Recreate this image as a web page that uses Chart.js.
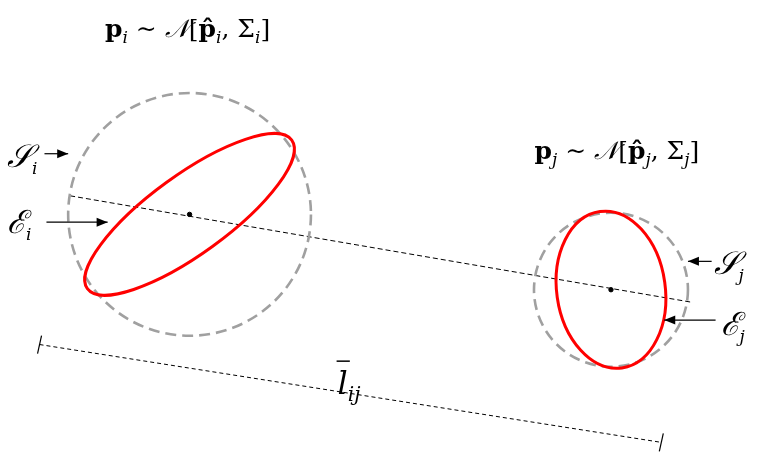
<!DOCTYPE html><html><head><meta charset="utf-8">
<script src="https://cdn.jsdelivr.net/npm/chart.js@4"></script>
<style>html,body{margin:0;background:#fff}#w{width:765px;height:464px}</style></head><body>
<div id="w"><canvas id="c"></canvas></div>
<script>
// Diagram values (in drawing units, x right, y down)
const centers = [{x:187,y:214},{x:614,y:291}];
const circleRadii = [123,78];
const ellipseAxes = [[128,40],[55,80]];
const ellipseAngles = [-36,-8];
const centerLine = [{x:66,y:195},{x:697,y:304}];
const dimLine = [{x:35,y:347},{x:665,y:447}];
const arrows = [[40,152,64,152],[42,222,104,222],[716,262,692,262],[720,322,668,322]];

const C = document.getElementById('c');
function seg(ctx,x,y,parts,align){
  let w=0; parts.forEach(p=>{ctx.font=p.f;p.w=ctx.measureText(p.t).width;w+=p.w;});
  let cx = align==='center'? x-w/2 : x;
  parts.forEach(p=>{ctx.font=p.f;ctx.fillText(p.t,cx,y+(p.dy||0));p.x=cx;cx+=p.w;});
  return parts;
}
const B='bold 25px "DejaVu Serif"', R='25px "DejaVu Serif"', I='italic 25px "DejaVu Serif"', SI='italic 17px "DejaVu Serif"', SC='italic 32px "DejaVu Serif"';
const deco={id:'deco',afterDatasetsDraw(ch){
  const ctx=ch.ctx, xs=ch.scales.x, ys=ch.scales.y;
  const px=v=>xs.getPixelForValue(v), py=v=>ys.getPixelForValue(v), k=(xs.getPixelForValue(100)-xs.getPixelForValue(0))/100;
  ctx.save();
  centers.forEach((c,i)=>{
    ctx.beginPath();ctx.setLineDash([11,6]);ctx.strokeStyle='#a0a0a0';ctx.lineWidth=2.6;
    ctx.arc(px(c.x),py(c.y),circleRadii[i]*k,0,Math.PI*2);ctx.stroke();
    ctx.beginPath();ctx.setLineDash([]);ctx.strokeStyle='#ff0000';ctx.lineWidth=3;
    ctx.ellipse(px(c.x),py(c.y),ellipseAxes[i][0]*k,ellipseAxes[i][1]*k,ellipseAngles[i]*Math.PI/180,0,Math.PI*2);ctx.stroke();
  });
  ctx.setLineDash([]);ctx.strokeStyle='#000';ctx.fillStyle='#000';ctx.lineWidth=1.2;
  arrows.forEach(a=>{
    const x1=px(a[0]),y1=py(a[1]),x2=px(a[2]),y2=py(a[3]);
    ctx.beginPath();ctx.moveTo(x1,y1);ctx.lineTo(x2,y2);ctx.stroke();
    const s=Math.sign(x2-x1);
    ctx.beginPath();ctx.moveTo(x2,y2);ctx.lineTo(x2-s*11,y2-4.5);ctx.lineTo(x2-s*11,y2+4.5);ctx.closePath();ctx.fill();
  });
  [dimLine[0],dimLine[1]].forEach(p=>{ctx.beginPath();ctx.moveTo(px(p.x)+2,py(p.y)-9);ctx.lineTo(px(p.x)-2,py(p.y)+9);ctx.stroke();});
  ctx.textBaseline='alphabetic';
  seg(ctx,px(185),py(33),[{t:'p',f:B},{t:'i',f:SI,dy:6},{t:' ∼ ',f:R},{t:'𝒩',f:I},{t:'[',f:R},{t:'p̂',f:B},{t:'i',f:SI,dy:6},{t:', Σ',f:R},{t:'i',f:SI,dy:6},{t:']',f:R}],'center');
  seg(ctx,px(620),py(157),[{t:'p',f:B},{t:'j',f:SI,dy:6},{t:' ∼ ',f:R},{t:'𝒩',f:I},{t:'[',f:R},{t:'p̂',f:B},{t:'j',f:SI,dy:6},{t:', Σ',f:R},{t:'j',f:SI,dy:6},{t:']',f:R}],'center');
  seg(ctx,px(2),py(166),[{t:'𝒮',f:SC},{t:'i',f:SI,dy:7}]);
  seg(ctx,px(2),py(233),[{t:'ℰ',f:SC},{t:'i',f:SI,dy:7}]);
  seg(ctx,px(718),py(275),[{t:'𝒮',f:SC},{t:'j',f:SI,dy:7}]);
  seg(ctx,px(725),py(337),[{t:'ℰ',f:SC},{t:'j',f:SI,dy:7}]);
  const p=seg(ctx,px(337),py(398),[{t:'l',f:'italic 32px "DejaVu Serif"'},{t:'ij',f:'italic 20px "DejaVu Serif"',dy:7}]);
  ctx.lineWidth=1.5;ctx.beginPath();ctx.moveTo(p[0].x-1,py(364));ctx.lineTo(p[0].x+p[0].w+2,py(364));ctx.stroke();
  ctx.restore();
}};
new Chart(C,{type:'scatter',data:{datasets:[
  {data:centers,pointRadius:2.2,backgroundColor:'#000',borderColor:'#000'},
  {data:centerLine,showLine:true,pointRadius:0,borderColor:'#000',borderWidth:1,borderDash:[5,3]},
  {data:dimLine,showLine:true,pointRadius:0,borderColor:'#000',borderWidth:1,borderDash:[4,3]}
]},plugins:[deco],options:{responsive:true,maintainAspectRatio:false,animation:false,layout:{padding:0},
  plugins:{legend:{display:false},tooltip:{enabled:false}},
  scales:{x:{type:'linear',min:0,max:765,display:false},y:{type:'linear',min:0,max:464,reverse:true,display:false}}}});
</script></body></html>
